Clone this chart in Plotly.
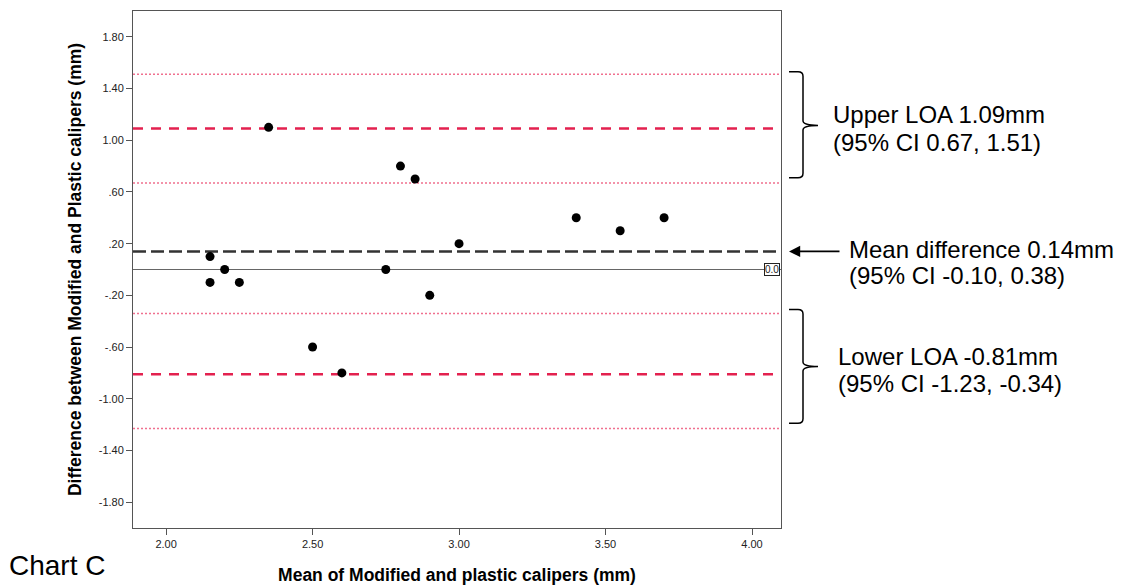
import plotly.graph_objects as go

# ---------------- data ----------------
mean_vals = [2.15, 2.15, 2.20, 2.25, 2.35, 2.50, 2.60, 2.75, 2.80, 2.85, 2.90, 3.00, 3.40, 3.55, 3.70]
diff_vals = [0.10, -0.10, 0.00, -0.10, 1.10, -0.60, -0.80, 0.00, 0.80, 0.70, -0.20, 0.20, 0.40, 0.30, 0.40]

mean_diff = 0.14
mean_ci = [-0.10, 0.38]
upper_loa = 1.09
upper_ci = [0.67, 1.51]
lower_loa = -0.81
lower_ci = [-1.23, -0.34]

x_tickvals = [2.0, 2.5, 3.0, 3.5, 4.0]
x_ticktext = ["2.00", "2.50", "3.00", "3.50", "4.00"]
y_tickvals = [1.8, 1.4, 1.0, 0.6, 0.2, -0.2, -0.6, -1.0, -1.4, -1.8]
y_ticktext = ["1.80", "1.40", "1.00", ".60", ".20", "-.20", "-.60", "-1.00", "-1.40", "-1.80"]

# ---------------- layout geometry ----------------
# the page body has an 8px margin, so the figure is drawn 8px in from the window corner
OFF = 8
WIN_W, WIN_H = 1124, 585
W, H = WIN_W - OFF, WIN_H - OFF
PL, PR, PT, PB = 133, 781, 11, 528          # plot area in window pixels
L, T = PL - OFF, PT - OFF
R, B = W - (PR - OFF), H - (PB - OFF)
PW, PH = PR - PL, PB - PT


def px(xp):
    return (xp - PL) / PW


def py(yp):
    return (PB - yp) / PH


FONT = "Liberation Sans, Arial, sans-serif"
RED = "#e3214f"
PINK = "#f0708f"

fig = go.Figure()
fig.add_trace(go.Scatter(
    x=mean_vals, y=diff_vals, mode="markers",
    marker=dict(color="black", size=9, line=dict(width=0)),
    showlegend=False, hoverinfo="x+y",
))

shapes = []


def hline(y, color, width, dash):
    shapes.append(dict(type="line", xref="paper", yref="y", x0=0, x1=1, y0=y, y1=y,
                       line=dict(color=color, width=width, dash=dash), layer="below"))


hline(0, "#666666", 1, "solid")
for v in upper_ci + lower_ci:
    hline(v, PINK, 1.5, "2px,2px")
hline(upper_loa, RED, 2.5, "10px,8px")
hline(lower_loa, RED, 2.5, "10px,8px")
hline(mean_diff, "#333333", 2.5, "13px,5px")


def brace(ytop, ymid, ybot):
    x0, x1, x2, x3 = px(789), px(798), px(803), px(818)
    d = 0.035
    path = (f"M {x0},{ytop} L {x1},{ytop} Q {x2},{ytop} {x2},{ytop - d} "
            f"L {x2},{ymid + d} Q {x2},{ymid} {x3},{ymid} Q {x2},{ymid} {x2},{ymid - d} "
            f"L {x2},{ybot + d} Q {x2},{ybot} {x1},{ybot} L {x0},{ybot}")
    shapes.append(dict(type="path", xref="paper", yref="y", path=path,
                       line=dict(color="black", width=1.5)))


brace(1.53, 1.115, 0.71)
brace(-0.31, -0.75, -1.19)

# right border line of the picture
shapes.append(dict(type="line", xref="paper", yref="paper", x0=px(1121), x1=px(1121),
                   y0=py(0), y1=py(585), line=dict(color="#aaaaaa", width=1)))

annotations = []


def text(xp, yv, s, size=24):
    annotations.append(dict(xref="paper", yref="y", x=px(xp), y=yv, text=s, showarrow=False,
                            xanchor="left", yanchor="middle",
                            font=dict(family=FONT, size=size, color="black")))


text(831, 1.20, f"Upper LOA {upper_loa:.2f}mm")
text(831, 0.985, f"(95% CI {upper_ci[0]:.2f}, {upper_ci[1]:.2f})")
text(847, 0.155, f"Mean difference {mean_diff:.2f}mm")
text(847, -0.045, f"(95% CI {mean_ci[0]:.2f}, {mean_ci[1]:.2f})")
text(836, -0.673, f"Lower LOA {lower_loa:.2f}mm")
text(836, -0.882, f"(95% CI {lower_ci[0]:.2f}, {lower_ci[1]:.2f})")

# arrow pointing at the mean difference line
annotations.append(dict(xref="paper", yref="y", x=px(789), y=mean_diff, ax=52, ay=0,
                        text="", showarrow=True, arrowhead=2, arrowsize=1.4, arrowwidth=1.6,
                        arrowcolor="black", standoff=0))

# reference label on zero line
annotations.append(dict(xref="paper", yref="y", x=px(780), y=0, text="0.0", showarrow=False,
                        xanchor="right", yanchor="middle", bgcolor="white",
                        bordercolor="#222222", borderwidth=1, borderpad=0,
                        font=dict(family=FONT, size=10, color="#222222")))

# chart label
annotations.append(dict(xref="paper", yref="paper", x=px(7), y=py(565), text="Chart C",
                        showarrow=False, xanchor="left", yanchor="middle",
                        font=dict(family=FONT, size=28, color="black")))

axis_common = dict(showgrid=False, zeroline=False, showline=True, linecolor="#555555",
                   linewidth=1, mirror=True, ticks="outside", ticklen=6, tickcolor="#555555",
                   tickfont=dict(family=FONT, size=11, color="#222222"))

fig.update_layout(
    width=W, height=H,
    margin=dict(l=L, r=R, t=T, b=B, autoexpand=False),
    paper_bgcolor="white", plot_bgcolor="white",
    showlegend=False,
    shapes=shapes, annotations=annotations,
    xaxis=dict(range=[1.887, 4.099], tickvals=x_tickvals, ticktext=x_ticktext,
               title=dict(text="Mean of Modified and plastic calipers (mm)", standoff=19,
                          font=dict(family=FONT, size=17.5, color="black", weight="bold")),
               **axis_common),
    yaxis=dict(range=[-2.0, 2.0], tickvals=y_tickvals, ticktext=y_ticktext,
               title=dict(text="Difference between Modified and Plastic calipers (mm)", standoff=12,
                          font=dict(family=FONT, size=17.5, color="black", weight="bold")),
               **axis_common),
)

fig.write_html("out.html")
